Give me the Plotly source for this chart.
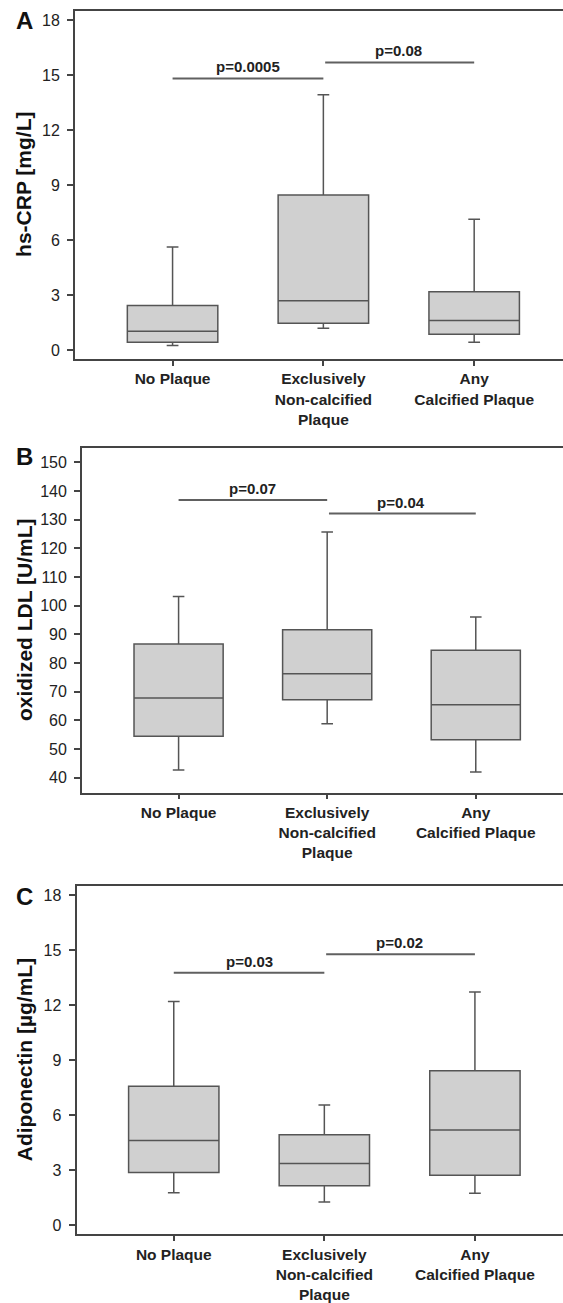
import plotly.graph_objects as go

# ---------------- data ----------------
categories = ["No Plaque", "Exclusively<br>Non-calcified<br>Plaque", "Any<br>Calcified Plaque"]

# Panel A: hs-CRP [mg/L]
crp_low = [0.24, 1.18, 0.42]
crp_q1 = [0.42, 1.45, 0.85]
crp_med = [1.02, 2.69, 1.60]
crp_q3 = [2.42, 8.45, 3.18]
crp_high = [5.62, 13.93, 7.13]
crp_p_labels = ["p=0.0005", "p=0.08"]
crp_p_heights = [14.82, 15.69]

# Panel B: oxidized LDL [U/mL]
ldl_low = [42.7, 58.8, 42.0]
ldl_q1 = [54.4, 67.2, 53.2]
ldl_med = [67.8, 76.2, 65.4]
ldl_q3 = [86.6, 91.6, 84.4]
ldl_high = [103.2, 125.7, 96.0]
ldl_p_labels = ["p=0.07", "p=0.04"]
ldl_p_heights = [136.8, 132.1]

# Panel C: Adiponectin [µg/mL]
adi_low = [1.76, 1.25, 1.73]
adi_q1 = [2.87, 2.14, 2.71]
adi_med = [4.61, 3.36, 5.18]
adi_q3 = [7.56, 4.92, 8.41]
adi_high = [12.19, 6.54, 12.71]
adi_p_labels = ["p=0.03", "p=0.02"]
adi_p_heights = [13.75, 14.77]

p_pairs = [(0, 1), (1, 2)]

crp_ticks = [0, 3, 6, 9, 12, 15, 18]
ldl_ticks = [40, 50, 60, 70, 80, 90, 100, 110, 120, 130, 140, 150]
adi_ticks = [0, 3, 6, 9, 12, 15, 18]

# ---------------- style ----------------
W, H = 563, 1303
FONT = "Liberation Sans, Arial, Helvetica, sans-serif"
AXIS_COLOR = "#444444"
BOX_FILL = "#d0d0d0"
BOX_LINE = "#555555"
BRACKET = "#606060"

panels = [
    dict(name="A", title="hs-CRP [mg/L]", low=crp_low, q1=crp_q1, med=crp_med, q3=crp_q3, high=crp_high,
         plabels=crp_p_labels, pheights=crp_p_heights, ticks=crp_ticks,
         left=75, top=11, bottom=360, yrange=[-0.49, 18.5], xrange=[-0.647, 2.589], letter_y=21),
    dict(name="B", title="oxidized LDL [U/mL]", low=ldl_low, q1=ldl_q1, med=ldl_med, q3=ldl_q3, high=ldl_high,
         plabels=ldl_p_labels, pheights=ldl_p_heights, ticks=ldl_ticks,
         left=82, top=449, bottom=795, yrange=[34.8, 155.1], xrange=[-0.65, 2.587], letter_y=458),
    dict(name="C", title="Adiponectin [µg/mL]", low=adi_low, q1=adi_q1, med=adi_med, q3=adi_q3, high=adi_high,
         plabels=adi_p_labels, pheights=adi_p_heights, ticks=adi_ticks,
         left=76.5, top=889, bottom=1238, yrange=[-0.5, 18.47], xrange=[-0.646, 2.585], letter_y=899),
]

fig = go.Figure()
layout = dict(
    width=W, height=H,
    margin=dict(l=0, r=0, t=0, b=0),
    paper_bgcolor="white", plot_bgcolor="white",
    showlegend=False,
    font=dict(family=FONT, color="#222222"),
)
shapes = []
annotations = []

for i, p in enumerate(panels, start=1):
    xa = "x" if i == 1 else f"x{i}"
    ya = "y" if i == 1 else f"y{i}"
    xkey = "xaxis" if i == 1 else f"xaxis{i}"
    ykey = "yaxis" if i == 1 else f"yaxis{i}"

    fig.add_trace(go.Box(
        x=[0, 1, 2],
        q1=p["q1"], median=p["med"], q3=p["q3"],
        lowerfence=p["low"], upperfence=p["high"],
        width=0.6, whiskerwidth=0.13,
        fillcolor=BOX_FILL,
        line=dict(color=BOX_LINE, width=1.5),
        boxpoints=False,
        hoverinfo="skip",
        xaxis=xa, yaxis=ya,
    ))

    ydom = [1 - p["bottom"] / H, 1 - p["top"] / H]
    layout[xkey] = dict(
        domain=[p["left"] / W, 1], range=p["xrange"], anchor=ya,
        tickmode="array", tickvals=[0, 1, 2], ticktext=[f"<b>{c}</b>" for c in categories],
        ticks="outside", ticklen=5, tickwidth=1.5, tickcolor=AXIS_COLOR,
        showline=True, linecolor=AXIS_COLOR, linewidth=1.8, mirror=True,
        showgrid=False, zeroline=False, fixedrange=True,
        tickfont=dict(family=FONT, size=15.5, color="#222222"),
    )
    layout[ykey] = dict(
        domain=ydom, range=p["yrange"], anchor=xa,
        tickmode="array", tickvals=p["ticks"],
        ticks="outside", ticklen=6, tickwidth=1.5, tickcolor=AXIS_COLOR,
        ticklabelstandoff=4,
        showline=True, linecolor=AXIS_COLOR, linewidth=1.8, mirror=False,
        showgrid=False, zeroline=False, fixedrange=True,
        tickfont=dict(family=FONT, size=16, color="#222222"),
    )

    # significance brackets
    for (a, b), lab, h in zip(p_pairs, p["plabels"], p["pheights"]):
        x0 = a + (0.012 if a > 0 else 0)
        shapes.append(dict(type="line", xref=xa, yref=ya, x0=x0, x1=b, y0=h, y1=h,
                           line=dict(color=BRACKET, width=2)))
        annotations.append(dict(xref=xa, yref=ya, x=(a + b) / 2, y=h, text=f"<b>{lab}</b>",
                                showarrow=False, xanchor="center", yanchor="bottom", yshift=1,
                                font=dict(family=FONT, size=15, color="#222222")))

    # y-axis title
    annotations.append(dict(xref="paper", yref="paper", x=24 / W, y=(ydom[0] + ydom[1]) / 2,
                            text=f"<b>{p['title']}</b>", textangle=-90, showarrow=False,
                            xanchor="center", yanchor="middle",
                            font=dict(family=FONT, size=21, color="#111111")))
    # panel letter
    annotations.append(dict(xref="paper", yref="paper", x=24 / W, y=1 - p["letter_y"] / H,
                            text=f"<b>{p['name']}</b>", showarrow=False,
                            xanchor="center", yanchor="middle",
                            font=dict(family=FONT, size=24, color="#111111")))

layout["shapes"] = shapes
layout["annotations"] = annotations
fig.update_layout(**layout)
fig.write_html(
    "out.html",
    config={"responsive": False, "displayModeBar": False},
    post_script="document.body.style.margin='0';document.body.style.padding='0';",
)
